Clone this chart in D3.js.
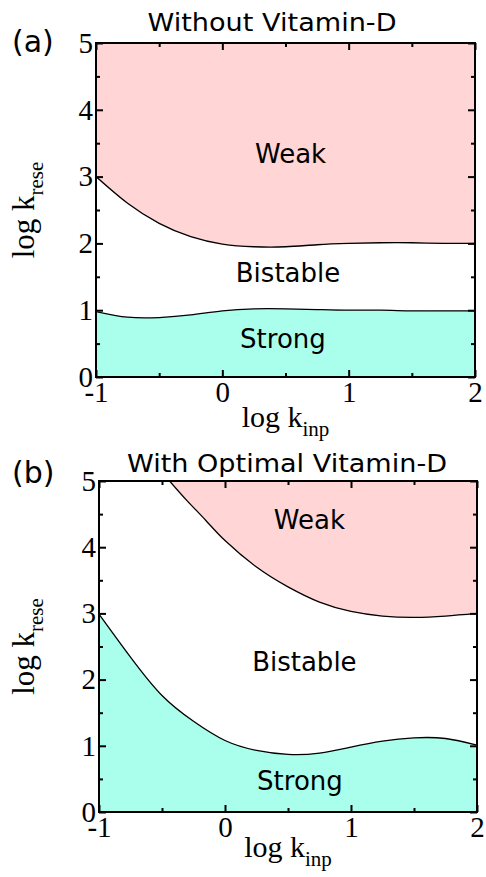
<!DOCTYPE html>
<html>
<head>
<meta charset="utf-8">
<script src="https://cdn.jsdelivr.net/npm/d3@7"></script>
<style>
  html, body { margin: 0; padding: 0; background: #fff; }
  svg { display: block; }
</style>
</head>
<body>
<svg id="chart" width="486" height="877"></svg>
<script>
// ---- data ----
const xGrid = [-1, -0.75, -0.5, -0.25, 0, 0.25, 0.5, 0.75, 1, 1.25, 1.5, 1.75, 2];

// Panel (a): Without Vitamin-D
const upperA = [3.0, 2.6, 2.3, 2.1, 1.99, 1.95, 1.95, 1.98, 2.0, 2.01, 2.01, 2.0, 2.0];
const lowerA = [0.98, 0.895, 0.89, 0.93, 0.99, 1.02, 1.02, 1.01, 1.0, 1.0, 0.99, 0.99, 0.99];

// Panel (b): With Optimal Vitamin-D
const xUpperB = [-0.44, -0.3, -0.15, 0, 0.25, 0.5, 0.75, 1, 1.25, 1.5, 1.75, 2];
const upperB = [5.0, 4.7, 4.4, 4.1, 3.7, 3.4, 3.17, 3.03, 2.96, 2.94, 2.96, 3.0];
const lowerB = [2.99, 2.34, 1.76, 1.37, 1.08, 0.93, 0.87, 0.89, 0.98, 1.07, 1.12, 1.11, 1.01];

const xTicks = [-1, 0, 1, 2];
const xMinor = [-0.5, 0.5, 1.5];
const yTicks = [0, 1, 2, 3, 4, 5];
const yMinor = [0.5, 1.5, 2.5, 3.5, 4.5];
const regionNames = ["Weak", "Bistable", "Strong"];
const panelTitles = ["Without Vitamin-D", "With Optimal Vitamin-D"];
const panelTags = ["(a)", "(b)"];

const svg = d3.select("#chart");
const PINK = "#ffd5d5", CYAN = "#aaffec";
const SERIF = "'Liberation Serif', 'Times New Roman', serif";
const SANS = "'DejaVu Sans', sans-serif";
const fmt = d => String(d);

const panels = [
  {
    box: {left: 96, right: 475, top: 43, bottom: 377},
    upperX: xGrid, upper: upperA, lower: lowerA,
    labels: [[0.54, 3.2], [0.52, 1.42], [0.48, 0.43]],
    title: panelTitles[0], titleX: 272, titleY: 31, titleW: 249, tag: panelTags[0], tagY: 52,
    xlabY: 427
  },
  {
    box: {left: 99, right: 477, top: 481, bottom: 812},
    upperX: xUpperB, upper: upperB, lower: lowerB,
    labels: [[0.67, 4.27], [0.63, 2.13], [0.595, 0.33]],
    title: panelTitles[1], titleX: 287, titleY: 472, titleW: 320, tag: panelTags[1], tagY: 483,
    xlabY: 857
  }
];

panels.forEach((p, i) => {
  const b = p.box;
  const x = d3.scaleLinear().domain([-1, 2]).range([b.left, b.right]);
  const y = d3.scaleLinear().domain([0, 5]).range([b.bottom, b.top]);
  const g = svg.append("g");

  const clipId = "clip" + i;
  g.append("clipPath").attr("id", clipId).append("rect")
    .attr("x", b.left).attr("y", b.top)
    .attr("width", b.right - b.left).attr("height", b.bottom - b.top);

  const upperPts = p.upperX.map((xv, k) => [xv, p.upper[k]]);
  const lowerPts = xGrid.map((xv, k) => [xv, p.lower[k]]);

  const curve = d3.curveNatural;
  const areaTop = d3.area().x(d => x(d[0])).y0(y(5)).y1(d => y(d[1])).curve(curve);
  const areaBot = d3.area().x(d => x(d[0])).y0(y(0)).y1(d => y(d[1])).curve(curve);
  const line = d3.line().x(d => x(d[0])).y(d => y(d[1])).curve(curve);

  const plot = g.append("g").attr("clip-path", `url(#${clipId})`);
  plot.append("path").datum(upperPts).attr("d", areaTop).attr("fill", PINK);
  plot.append("path").datum(lowerPts).attr("d", areaBot).attr("fill", CYAN);
  plot.append("path").datum(upperPts).attr("d", line)
    .attr("fill", "none").attr("stroke", "#000").attr("stroke-width", 1.3);
  plot.append("path").datum(lowerPts).attr("d", line)
    .attr("fill", "none").attr("stroke", "#000").attr("stroke-width", 1.3);

  // region labels
  p.labels.forEach((lp, k) => {
    g.append("text").attr("x", x(lp[0])).attr("y", y(lp[1]))
      .attr("text-anchor", "middle")
      .style("font-family", SANS).style("font-size", "26px").attr("fill", "#000")
      .text(regionNames[k]);
  });

  // axes: inward ticks
  const styleAxis = sel => {
    sel.select(".domain").remove();
    sel.selectAll("line").attr("stroke", "#000").attr("stroke-width", 2);
    sel.selectAll("text").style("font-family", SERIF).style("font-size", "29px").attr("fill", "#000");
  };
  g.append("g").attr("transform", `translate(0,${b.bottom})`)
    .call(d3.axisBottom(x).tickValues(xTicks).tickSize(-7).tickPadding(4).tickFormat(fmt))
    .call(styleAxis);
  g.append("g").attr("transform", `translate(0,${b.bottom})`)
    .call(d3.axisBottom(x).tickValues(xMinor).tickSize(-4).tickFormat(""))
    .call(styleAxis);
  g.append("g").attr("transform", `translate(0,${b.top})`)
    .call(d3.axisTop(x).tickValues(xTicks).tickSize(-7).tickFormat(""))
    .call(styleAxis);
  g.append("g").attr("transform", `translate(0,${b.top})`)
    .call(d3.axisTop(x).tickValues(xMinor).tickSize(-4).tickFormat(""))
    .call(styleAxis);
  g.append("g").attr("transform", `translate(${b.left},0)`)
    .call(d3.axisLeft(y).tickValues(yTicks).tickSize(-7).tickPadding(3).tickFormat(fmt))
    .call(styleAxis);
  g.append("g").attr("transform", `translate(${b.left},0)`)
    .call(d3.axisLeft(y).tickValues(yMinor).tickSize(-4).tickFormat(""))
    .call(styleAxis);
  g.append("g").attr("transform", `translate(${b.right},0)`)
    .call(d3.axisRight(y).tickValues(yTicks).tickSize(-7).tickFormat(""))
    .call(styleAxis);
  g.append("g").attr("transform", `translate(${b.right},0)`)
    .call(d3.axisRight(y).tickValues(yMinor).tickSize(-4).tickFormat(""))
    .call(styleAxis);

  // frame
  g.append("rect").attr("x", b.left).attr("y", b.top)
    .attr("width", b.right - b.left).attr("height", b.bottom - b.top)
    .attr("fill", "none").attr("stroke", "#000").attr("stroke-width", 2);

  // title and tag
  g.append("text").attr("x", p.titleX).attr("y", p.titleY).attr("text-anchor", "middle")
    .attr("textLength", p.titleW).attr("lengthAdjust", "spacingAndGlyphs")
    .style("font-family", SANS).style("font-size", "24px").attr("fill", "#000")
    .text(p.title);
  g.append("text").attr("x", 12).attr("y", p.tagY)
    .style("font-family", SANS).style("font-size", "30px").attr("fill", "#000")
    .text(p.tag);

  // x axis label
  const xl = g.append("text").attr("x", (b.left + b.right) / 2).attr("y", p.xlabY)
    .attr("text-anchor", "middle")
    .style("font-family", SERIF).style("font-size", "30px").attr("fill", "#000");
  xl.append("tspan").text("log k");
  xl.append("tspan").attr("dy", 9).style("font-size", "21px").text("inp");

  // y axis label
  const yl = g.append("text")
    .attr("transform", `translate(34,${(b.top + b.bottom) / 2}) rotate(-90)`)
    .attr("text-anchor", "middle")
    .style("font-family", SERIF).style("font-size", "31px").attr("fill", "#000");
  yl.append("tspan").text("log k");
  yl.append("tspan").attr("dy", 9).style("font-size", "21px").text("rese");
});
</script>
</body>
</html>
